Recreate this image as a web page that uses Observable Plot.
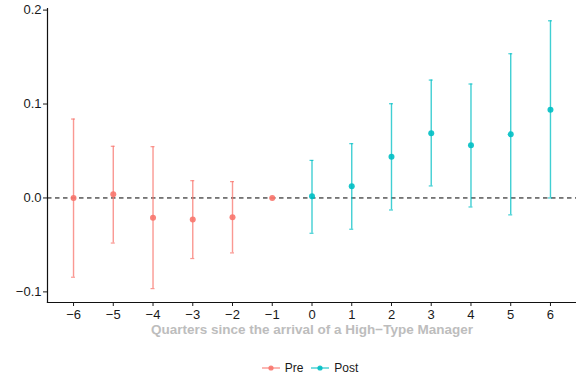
<!DOCTYPE html>
<html>
<head>
<meta charset="utf-8">
<script src="https://cdn.jsdelivr.net/npm/d3@7"></script>
<script src="https://cdn.jsdelivr.net/npm/@observablehq/plot@0.6"></script>
<style>
  html, body { margin: 0; padding: 0; background: #fff; }
  body { width: 576px; height: 379px; overflow: hidden; font-family: "Liberation Sans", Arial, sans-serif; }
  #legend { position: absolute; top: 361px; left: 0; width: 576px; display: flex; justify-content: center; gap: 8px; font-size: 12px; color: #1a1a1a; padding-left: 44px; box-sizing: border-box; }
  .item { display: flex; align-items: center; gap: 5px; }
</style>
</head>
<body>
<div id="chart"></div>
<div id="legend"></div>
<script>
const quarters = [-6, -5, -4, -3, -2, -1, 0, 1, 2, 3, 4, 5, 6];
const estimates = [0.000, 0.004, -0.021, -0.023, -0.0206, 0.000, 0.0018, 0.0124, 0.044, 0.069, 0.056, 0.0677, 0.094];
const lower = [-0.0844, -0.048, -0.0965, -0.0645, -0.0585, 0.000, -0.0376, -0.0333, -0.0128, 0.0128, -0.0096, -0.018, 0.000];
const upper = [0.084, 0.055, 0.0546, 0.0184, 0.0174, 0.000, 0.040, 0.0578, 0.1003, 0.1255, 0.1213, 0.1535, 0.1886];
const periods = ["Pre", "Pre", "Pre", "Pre", "Pre", "Pre", "Post", "Post", "Post", "Post", "Post", "Post", "Post"];
const yTicks = [-0.1, 0.0, 0.1, 0.2];
const seriesNames = ["Pre", "Post"];
const seriesColors = ["#F8766D", "#00BFC4"];

const data = quarters.map((q, i) => ({q, est: estimates[i], lo: lower[i], hi: upper[i], period: periods[i]}));
const capHalf = 0.05;

const chart = Plot.plot({
  width: 576,
  height: 340,
  marginLeft: 47,
  marginRight: 0,
  marginTop: 8,
  marginBottom: 38,
  style: {fontFamily: "'Liberation Sans', Arial, sans-serif", fontSize: "13px", color: "#1a1a1a", background: "#fff"},
  x: {domain: [-6.655, 6.655], ticks: quarters, label: null},
  y: {domain: [-0.1113, 0.2017], ticks: yTicks, tickFormat: d3.format(".1f"), label: null},
  color: {domain: seriesNames, range: seriesColors},
  marks: [
    Plot.ruleY([0], {stroke: "#000", strokeWidth: 1, strokeDasharray: "4.5,3.5"}),
    Plot.ruleX(data, {x: "q", y1: "lo", y2: "hi", stroke: "period", strokeWidth: 1.4, strokeOpacity: 0.75}),
    Plot.ruleY(data, {y: "hi", x1: d => d.q - capHalf, x2: d => d.q + capHalf, stroke: "period", strokeWidth: 1.2, strokeOpacity: 0.75}),
    Plot.ruleY(data, {y: "lo", x1: d => d.q - capHalf, x2: d => d.q + capHalf, stroke: "period", strokeWidth: 1.2, strokeOpacity: 0.75}),
    Plot.dot(data, {x: "q", y: "est", fill: "period", r: 3, fillOpacity: 0.9}),
    Plot.frame({anchor: "left", stroke: "#111", strokeWidth: 1.2}),
    Plot.frame({anchor: "bottom", stroke: "#111", strokeWidth: 1.2}),
    Plot.axisX({ticks: quarters, tickSize: 4, tickPadding: 3, fontSize: 13, label: null}),
    Plot.axisY({ticks: yTicks, tickFormat: d3.format(".1f"), tickSize: 4, tickPadding: 2, fontSize: 13, label: null}),
    Plot.text(["Quarters since the arrival of a High\u2212Type Manager"], {frameAnchor: "bottom", dy: 31, fill: "#bdbdbd", fontWeight: "bold", fontSize: 13.5})
  ]
});
document.getElementById("chart").appendChild(chart);

const legend = document.getElementById("legend");
seriesNames.forEach((name, i) => {
  const item = document.createElement("div");
  item.className = "item";
  item.innerHTML = `<svg width="18" height="10"><line x1="0" y1="5" x2="18" y2="5" stroke="${seriesColors[i]}" stroke-width="1.4" stroke-opacity="0.75"/><circle cx="9" cy="5" r="2.6" fill="${seriesColors[i]}" fill-opacity="0.9"/></svg><span>${name}</span>`;
  legend.appendChild(item);
});
</script>
</body>
</html>
